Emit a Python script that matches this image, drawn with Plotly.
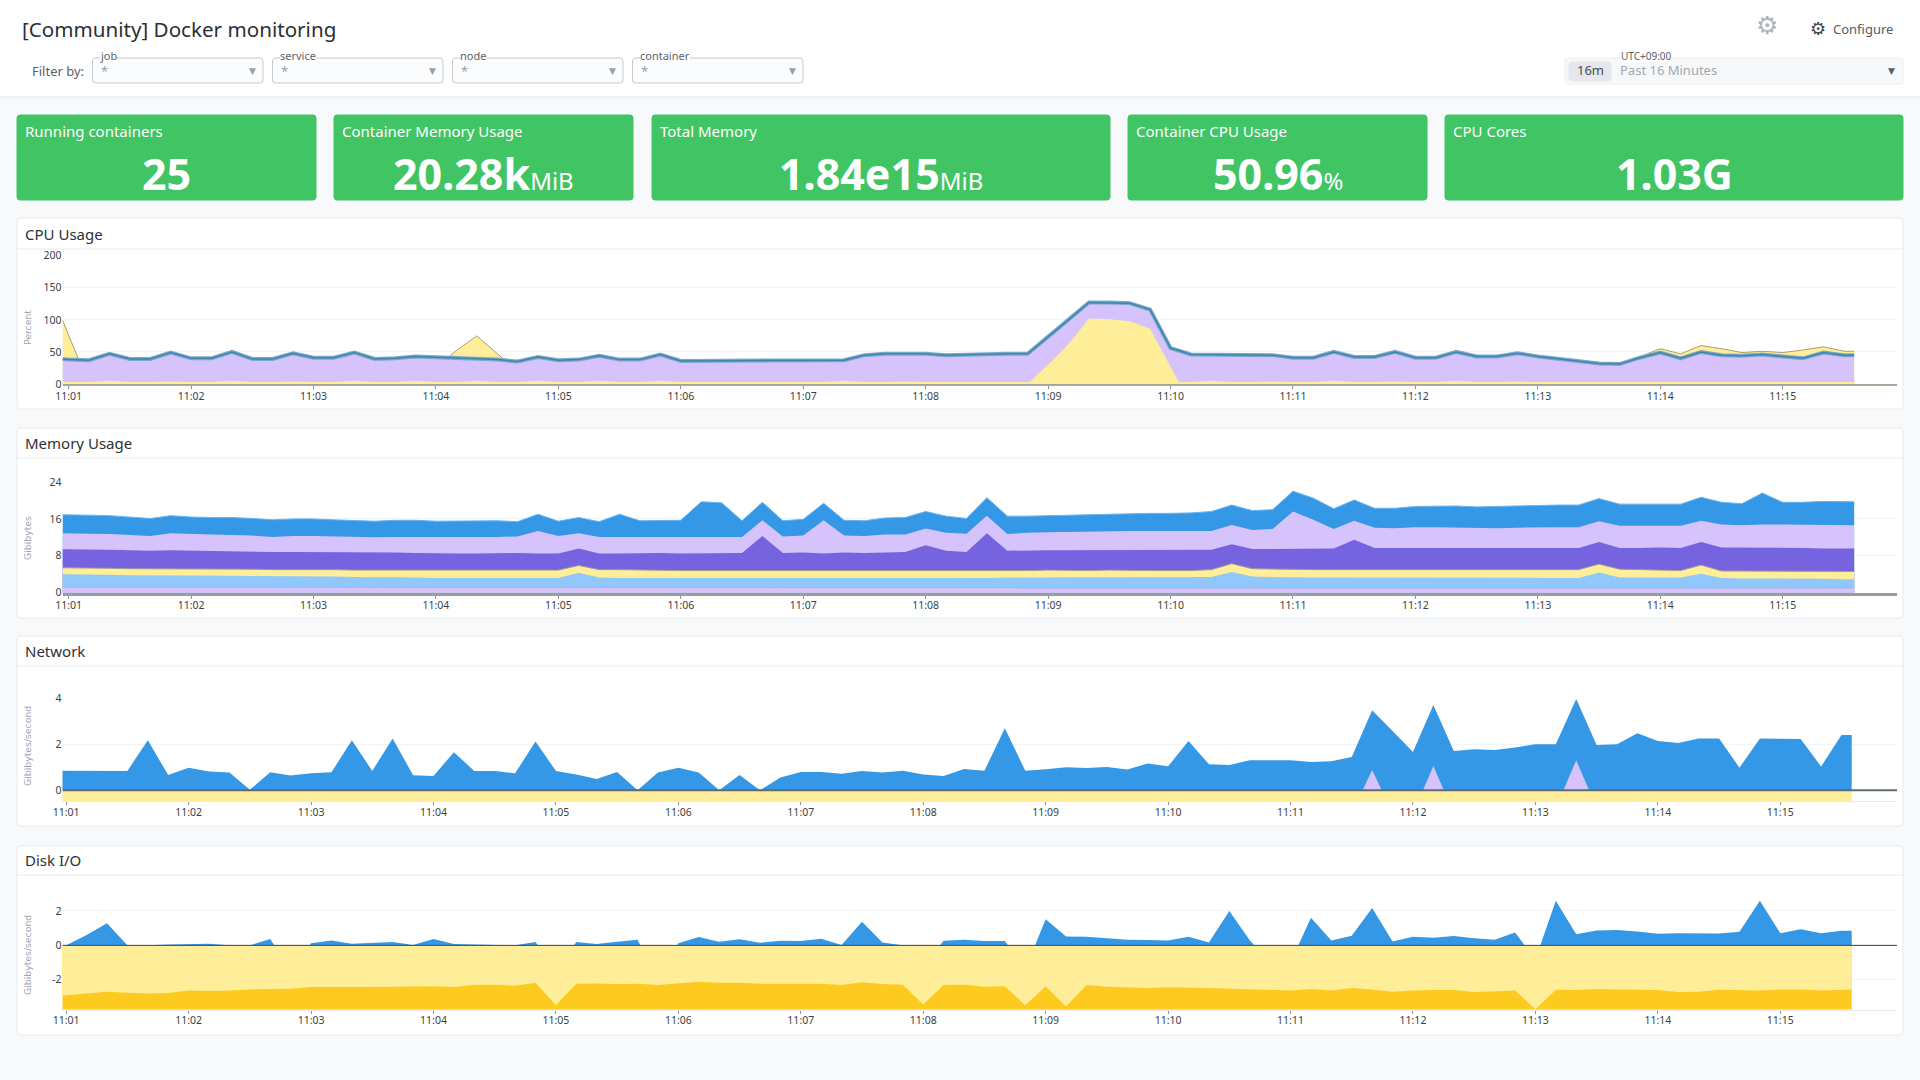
import pandas as pd
import plotly.graph_objs as go

W, H = 1920, 1080

# sample times: a first partial sample, then 10 s steps, then a last partial sample
TIMES = (["2024-01-01 11:00:57"]
         + [t.strftime("%Y-%m-%d %H:%M:%S") for t in pd.date_range("2024-01-01 11:01:00", "2024-01-01 11:15:30", freq="10s")]
         + ["2024-01-01 11:15:35"])

# CPU Usage (percent)
CPU_MAIN = [39, 38, 37, 47, 39, 39, 49,
            40, 40, 50, 39, 39, 48,
            41, 41, 49, 39, 40, 43,
            42, 40, 40, 38, 35, 42,
            37, 38, 44, 38, 38, 46,
            36, 36, 37, 37, 36, 36,
            36, 36, 37, 45, 47, 47,
            47, 45, 46, 47, 47, 47,
            73, 100, 127, 127, 126, 116,
            56, 46, 46, 46, 45, 45,
            41, 41, 50, 42, 42, 50,
            41, 41, 50, 43, 43, 48,
            43, 39, 35, 32, 31, 41,
            49, 40, 50, 45, 44, 46,
            43, 40, 49, 45, 45]
CPU_BACK = [100, 76, 0, 0, 0, 0, 0,
            0, 0, 0, 0, 0, 0,
            0, 0, 0, 0, 0, 0,
            25, 52, 75, 48, 20, 0,
            0, 0, 0, 0, 0, 0,
            0, 0, 0, 0, 0, 0,
            0, 0, 0, 0, 0, 0,
            0, 0, 0, 0, 0, 0,
            0, 0, 0, 0, 0, 0,
            0, 0, 0, 0, 0, 0,
            0, 0, 0, 0, 0, 0,
            0, 0, 0, 0, 0, 0,
            0, 0, 0, 0, 30, 43,
            55, 47, 60, 55, 49, 51,
            49, 53, 58, 51, 51]
CPU_FRONT = [0, 0, 0, 0, 0, 0, 0,
             0, 0, 0, 0, 0, 0,
             0, 0, 0, 0, 0, 0,
             0, 0, 0, 0, 0, 0,
             0, 0, 0, 0, 0, 0,
             0, 0, 0, 0, 0, 0,
             0, 0, 0, 0, 0, 0,
             0, 0, 0, 0, 0, 0,
             30, 62, 102, 101, 98, 86,
             27, -32, 0, 0, 0, 0,
             0, 0, 0, 0, 0, 0,
             0, 0, 0, 0, 0, 0,
             0, 0, 0, 0, 0, 0,
             0, 0, 0, 0, 0, 0,
             0, 0, 0, 0, 0]
CPU_SMALL = [3, 3, 3, 5, 3, 3, 4,
             3, 3, 5, 3, 3, 4,
             3, 3, 5, 3, 3, 5,
             3, 3, 5, 3, 3, 5,
             3, 3, 5, 3, 3, 5,
             3, 3, 4, 3, 3, 4,
             3, 3, 5, 3, 3, 4,
             3, 3, 4, 3, 3, 3,
             3, 3, 3, 3, 3, 3,
             3, 3, 5, 3, 3, 4,
             3, 3, 5, 3, 3, 4,
             3, 3, 5, 3, 3, 4,
             3, 3, 4, 3, 3, 3,
             3, 3, 4, 3, 3, 4,
             3, 3, 4, 3, 3]

# Memory Usage (GiB), upper edge of each band
MEM_TOP = [16.9, 16.9, 16.8, 16.7, 16.4, 16.1, 16.7,
           16.4, 16.3, 16.3, 16.1, 15.8, 16.0,
           16.0, 15.8, 15.6, 15.5, 15.7, 15.7,
           15.5, 15.5, 15.5, 15.6, 15.4, 17.0,
           15.5, 16.3, 15.4, 17.0, 15.6, 15.6,
           15.7, 19.7, 19.5, 15.6, 19.6, 15.6,
           15.9, 19.4, 15.7, 15.6, 16.2, 16.3,
           17.6, 16.6, 16.1, 20.6, 16.6, 16.6,
           16.7, 16.8, 16.9, 17.0, 17.2, 17.2,
           17.2, 17.3, 17.6, 19.0, 17.8, 18.0,
           22.0, 20.5, 18.2, 20.1, 18.3, 18.3,
           18.7, 18.8, 18.8, 18.6, 18.7, 18.8,
           19.0, 19.0, 19.0, 20.4, 19.2, 19.2,
           19.3, 19.2, 20.7, 19.6, 19.3, 21.6,
           19.6, 19.6, 19.8, 19.7, 19.7]
MEM_LAVENDER = [12.9, 12.9, 12.8, 12.7, 12.5, 12.3, 12.9,
                12.7, 12.6, 12.5, 12.4, 12.1, 12.3,
                12.3, 12.2, 12.1, 12.0, 12.1, 12.1,
                12.0, 12.0, 12.0, 12.1, 12.2, 13.4,
                12.3, 12.9, 12.1, 12.1, 12.1, 12.1,
                12.2, 12.1, 12.1, 12.1, 15.7, 12.2,
                12.4, 15.7, 12.4, 12.3, 12.6, 12.6,
                13.9, 13.0, 12.8, 16.7, 12.7, 13.0,
                13.1, 13.2, 13.3, 13.4, 13.4, 13.4,
                13.4, 13.4, 13.4, 14.7, 13.6, 13.8,
                17.6, 15.8, 13.8, 15.6, 14.1, 14.0,
                14.2, 14.2, 14.1, 14.0, 14.0, 14.1,
                14.2, 14.2, 14.2, 15.5, 14.5, 14.5,
                14.5, 14.5, 15.6, 14.8, 14.6, 14.8,
                14.8, 14.7, 14.7, 14.6, 14.6]
MEM_VIOLET = [9.4, 9.4, 9.4, 9.3, 9.2, 9.1, 9.2,
              9.1, 9.1, 9.0, 8.9, 8.8, 8.8,
              8.8, 8.8, 8.8, 8.7, 8.7, 8.6,
              8.5, 8.5, 8.5, 8.6, 8.6, 8.5,
              8.5, 9.6, 8.5, 8.5, 8.6, 8.6,
              8.5, 8.5, 8.5, 8.6, 12.3, 8.6,
              8.7, 8.5, 8.7, 8.6, 8.7, 8.8,
              10.3, 9.1, 8.8, 12.9, 9.1, 9.2,
              9.2, 9.2, 9.2, 9.2, 9.2, 9.3,
              9.3, 9.3, 9.3, 10.5, 9.5, 9.5,
              9.5, 9.5, 9.6, 11.5, 9.7, 9.7,
              9.7, 9.7, 9.6, 9.6, 9.6, 9.7,
              9.7, 9.7, 9.7, 11.0, 9.7, 9.7,
              9.8, 9.7, 11.0, 9.8, 9.8, 9.8,
              9.8, 9.7, 9.6, 9.6, 9.6]
MEM_YELLOW = [5.4, 5.4, 5.3, 5.3, 5.2, 5.2, 5.2,
              5.2, 5.1, 5.1, 5.1, 5.0, 5.0,
              5.1, 5.0, 4.9, 4.9, 4.9, 4.8,
              4.8, 4.8, 4.8, 4.8, 4.8, 4.8,
              4.9, 5.9, 5.0, 5.0, 4.9, 4.9,
              4.8, 4.8, 4.8, 4.7, 4.7, 4.8,
              4.8, 4.7, 4.8, 4.8, 4.7, 4.7,
              4.8, 4.8, 4.8, 4.8, 4.8, 4.8,
              4.9, 4.8, 4.8, 4.9, 4.8, 4.8,
              4.8, 4.8, 5.0, 6.3, 5.2, 5.1,
              5.0, 5.0, 5.0, 5.0, 5.0, 5.0,
              5.0, 5.0, 4.9, 4.9, 4.9, 4.9,
              5.0, 5.0, 5.0, 6.2, 5.1, 5.0,
              4.9, 4.8, 6.0, 4.7, 4.7, 4.7,
              4.7, 4.7, 4.6, 4.6, 4.6]
MEM_SKY = [4.0, 4.0, 3.9, 3.9, 3.8, 3.8, 3.7,
           3.7, 3.7, 3.7, 3.6, 3.6, 3.6,
           3.5, 3.5, 3.4, 3.4, 3.3, 3.3,
           3.2, 3.2, 3.2, 3.2, 3.2, 3.2,
           3.2, 4.3, 3.3, 3.2, 3.2, 3.2,
           3.2, 3.2, 3.1, 3.2, 3.2, 3.2,
           3.2, 3.1, 3.2, 3.2, 3.1, 3.1,
           3.1, 3.2, 3.2, 3.2, 3.3, 3.3,
           3.3, 3.3, 3.3, 3.3, 3.3, 3.3,
           3.3, 3.3, 3.4, 4.5, 3.5, 3.4,
           3.3, 3.3, 3.3, 3.3, 3.3, 3.3,
           3.3, 3.3, 3.2, 3.2, 3.2, 3.2,
           3.2, 3.2, 3.2, 4.4, 3.3, 3.3,
           3.3, 3.3, 4.1, 3.2, 3.1, 3.1,
           3.0, 3.0, 3.0, 2.9, 2.9]
MEM_BASE = [1.2, 1.2, 1.2, 1.2, 1.2, 1.2, 1.2,
            1.2, 1.2, 1.2, 1.2, 1.2, 1.1,
            1.1, 1.1, 1.1, 1.1, 1.1, 1.1,
            1.1, 1.1, 1.1, 1.1, 1.1, 1.1,
            1.1, 1.2, 1.1, 1.1, 1.1, 1.1,
            1.1, 1.1, 1.1, 1.1, 1.1, 1.1,
            1.1, 1.1, 1.1, 1.1, 1.1, 1.1,
            1.1, 1.1, 1.1, 1.1, 1.1, 1.0,
            1.0, 1.0, 1.0, 1.0, 1.0, 1.0,
            1.0, 1.0, 1.0, 1.1, 1.0, 1.0,
            1.0, 1.0, 1.0, 1.0, 1.0, 1.0,
            1.0, 1.0, 1.0, 1.0, 1.0, 1.0,
            1.0, 1.0, 1.0, 1.1, 1.0, 1.0,
            1.0, 1.0, 1.1, 1.0, 1.0, 1.0,
            1.0, 1.0, 1.0, 1.0, 1.0]

# Network (GiB/s)
NET_RX = [0.85, 0.85, 0.85, 0.85, 0.84, 2.17, 0.66,
          0.98, 0.81, 0.77, 0.02, 0.78, 0.64,
          0.74, 0.78, 2.17, 0.84, 2.25, 0.65,
          0.62, 1.65, 0.84, 0.84, 0.74, 2.11,
          0.84, 0.69, 0.49, 0.79, 0.0, 0.77,
          0.98, 0.77, 0.0, 0.66, 0.0, 0.55,
          0.79, 0.79, 0.72, 0.84, 0.77, 0.85,
          0.69, 0.62, 0.92, 0.85, 2.69, 0.85,
          0.91, 1.0, 0.97, 1.01, 0.9, 1.16,
          1.04, 2.14, 1.13, 1.1, 1.3, 1.31,
          1.3, 1.23, 1.26, 1.44, 3.47, 2.57,
          1.66, 3.7, 1.7, 1.78, 1.75, 1.86,
          2.0, 2.0, 3.96, 1.96, 2.0, 2.47,
          2.14, 2.05, 2.25, 2.24, 0.98, 2.25,
          2.22, 2.22, 1.03, 2.4, 2.4]
NET_SPIKE = [0, 0, 0, 0, 0, 0, 0,
             0, 0, 0, 0, 0, 0,
             0, 0, 0, 0, 0, 0,
             0, 0, 0, 0, 0, 0,
             0, 0, 0, 0, 0, 0,
             0, 0, 0, 0, 0, 0,
             0, 0, 0, 0, 0, 0,
             0, 0, 0, 0, 0, 0,
             0, 0, 0, 0, 0, 0,
             0, 0, 0, 0, 0, 0,
             0, 0, 0, -1.0, 0.88, -1.0,
             -1.0, 1.05, -1.0, 0, 0, 0,
             0, -0.76, 1.3, -0.76, 0, 0,
             0, 0, 0, 0, 0, 0,
             0, 0, 0, 0, 0]
NET_TX = [-0.47, -0.47, -0.47, -0.47, -0.47, -0.47, -0.47,
          -0.47, -0.47, -0.47, -0.47, -0.47, -0.47,
          -0.47, -0.47, -0.47, -0.47, -0.47, -0.47,
          -0.47, -0.47, -0.47, -0.47, -0.47, -0.47,
          -0.47, -0.47, -0.47, -0.47, -0.47, -0.47,
          -0.47, -0.47, -0.47, -0.47, -0.47, -0.47,
          -0.47, -0.47, -0.47, -0.47, -0.47, -0.47,
          -0.47, -0.47, -0.47, -0.47, -0.47, -0.47,
          -0.47, -0.47, -0.47, -0.47, -0.47, -0.47,
          -0.47, -0.47, -0.47, -0.47, -0.47, -0.47,
          -0.47, -0.47, -0.47, -0.47, -0.47, -0.47,
          -0.47, -0.47, -0.47, -0.47, -0.47, -0.47,
          -0.47, -0.47, -0.47, -0.47, -0.47, -0.47,
          -0.47, -0.47, -0.47, -0.47, -0.47, -0.47,
          -0.47, -0.47, -0.47, -0.47, -0.47]

# Disk I/O (GiB/s); the dips below zero sit behind the yellow areas
DISK_READ = [0, 0, 0.6, 1.29, 0, 0, 0.05,
             0.08, 0.1, 0, 0, 0.37, -1.5,
             0.12, 0.29, 0.1, 0.15, 0.19, 0.02,
             0.37, 0.08, 0.04, 0, 0, 0.19,
             -1.4, 0.19, 0.08, 0.21, 0.33, -2.0,
             0.12, 0.48, 0.21, 0.35, 0.15, 0.27,
             0.25, 0.38, 0.02, 1.37, 0.17, 0,
             -1.2, 0.27, 0.33, 0.25, 0.25, -1.4,
             1.52, 0.52, 0.5, 0.42, 0.33, 0.31,
             0.29, 0.5, 0.17, 2.0, 0.3, -1.0,
             -1.0, 1.6, 0.29, 0.56, 2.17, 0.23,
             0.5, 0.44, 0.54, 0.42, 0.33, 0.75,
             -0.82, 2.6, 0.64, 0.87, 0.9, 0.8,
             0.67, 0.71, 0.71, 0.69, 0.79, 2.6,
             0.71, 0.94, 0.71, 0.85, 0.85]
DISK_WRITE = [-2.9, -2.9, -2.8, -2.69, -2.75, -2.8, -2.77,
              -2.62, -2.65, -2.63, -2.56, -2.54, -2.52,
              -2.42, -2.42, -2.46, -2.42, -2.4, -2.38,
              -2.38, -2.42, -2.31, -2.29, -2.35, -2.17,
              -3.48, -2.23, -2.21, -2.25, -2.23, -2.31,
              -2.23, -2.12, -2.17, -2.17, -2.23, -2.25,
              -2.23, -2.23, -2.31, -2.15, -2.25, -2.29,
              -3.44, -2.31, -2.29, -2.4, -2.37, -3.48,
              -2.38, -3.56, -2.31, -2.4, -2.44, -2.48,
              -2.44, -2.44, -2.48, -2.52, -2.54, -2.6,
              -2.62, -2.54, -2.63, -2.48, -2.56, -2.69,
              -2.62, -2.6, -2.6, -2.71, -2.67, -2.62,
              -3.71, -2.58, -2.6, -2.54, -2.56, -2.6,
              -2.6, -2.71, -2.69, -2.58, -2.62, -2.62,
              -2.56, -2.56, -2.62, -2.56, -2.56]
DISK_TOTAL = [-3.74, -3.74, -3.74, -3.74, -3.74, -3.74, -3.74,
              -3.74, -3.74, -3.74, -3.74, -3.74, -3.74,
              -3.74, -3.74, -3.74, -3.74, -3.74, -3.74,
              -3.74, -3.74, -3.74, -3.74, -3.74, -3.74,
              -3.74, -3.74, -3.74, -3.74, -3.74, -3.74,
              -3.74, -3.74, -3.74, -3.74, -3.74, -3.74,
              -3.74, -3.74, -3.74, -3.74, -3.74, -3.74,
              -3.74, -3.74, -3.74, -3.74, -3.74, -3.74,
              -3.74, -3.74, -3.74, -3.74, -3.74, -3.74,
              -3.74, -3.74, -3.74, -3.74, -3.74, -3.74,
              -3.74, -3.74, -3.74, -3.74, -3.74, -3.74,
              -3.74, -3.74, -3.74, -3.74, -3.74, -3.74,
              -3.74, -3.74, -3.74, -3.74, -3.74, -3.74,
              -3.74, -3.74, -3.74, -3.74, -3.74, -3.74,
              -3.74, -3.74, -3.74, -3.74, -3.74]

FILTERS = ["job", "service", "node", "container"]
TILE_TITLES = ["Running containers", "Container Memory Usage", "Total Memory", "Container CPU Usage", "CPU Cores"]
TILE_VALUES = ["25", "20.28k", "1.84e15", "50.96", "1.03G"]
TILE_UNITS = ["", "MiB", "MiB", "%", ""]

YELLOW = "#feee9a"
LAVENDER = "#d6c3fb"
BLUE = "#3498e6"
GOLD = "#fdcb20"
FONT = "Noto Sans"


def px(x):
    return x / W


def py(y):
    return 1 - y / H


def rrect(x0, y0, x1, y1, r, fill, line=None):
    a, b, c, d = px(x0), px(x1), py(y0), py(y1)
    rx, ry = r / W, r / H
    path = (f"M{a + rx},{c} L{b - rx},{c} Q{b},{c} {b},{c - ry} L{b},{d + ry} Q{b},{d} {b - rx},{d} "
            f"L{a + rx},{d} Q{a},{d} {a},{d + ry} L{a},{c - ry} Q{a},{c} {a + rx},{c} Z")
    return dict(type="path", path=path, xref="paper", yref="paper", fillcolor=fill, layer="below",
                line=dict(color=line or fill, width=1))


def hline(x0, x1, y, color):
    return dict(type="line", xref="paper", yref="paper", x0=px(x0), x1=px(x1), y0=py(y), y1=py(y),
                layer="below", line=dict(color=color, width=1))


def note(x, y, text, size=13, color="#333", anchor="left", family=FONT, **kw):
    return dict(x=px(x), y=py(y), xref="paper", yref="paper", text=text, showarrow=False,
                xanchor=anchor, yanchor="middle", font=dict(size=size, color=color, family=family),
                borderpad=0, borderwidth=0, **kw)


shapes = []
notes = []

# header
shapes.append(dict(type="rect", xref="paper", yref="paper", x0=0, x1=1, y0=py(97), y1=1, layer="below",
                   fillcolor="#ffffff", line=dict(width=0)))
shapes.append(hline(0, W, 97, "#e3e5e9"))
notes.append(note(22, 29, "[Community] Docker monitoring", size=20.6, color="#2b2f36"))
notes.append(note(32, 71, "Filter by:", size=13, color="#5c6168"))

filter_x = [92.5, 272.5, 452.5, 632.5]
for name, x in zip(FILTERS, filter_x):
    shapes.append(rrect(x, 58, x + 170.5, 83, 3, "#fbfcfd", "#c5c9d0"))
    notes.append(note(x + 7, 55.5, name, size=11, color="#5c6168", bgcolor="#ffffff"))
    notes.append(note(x + 8, 71, "*", size=13, color="#9aa0a8"))
    notes.append(note(x + 159.5, 71, "▼", size=9, color="#9aa0a8", anchor="center", family="DejaVu Sans"))

shapes.append(rrect(1565, 58, 1903, 84, 3, "#f7f8fa", "#eceef1"))
shapes.append(rrect(1569, 62, 1611, 81, 3, "#e4e7ec"))
notes.append(note(1590, 70.5, "16m", size=13, color="#4a4f57", anchor="center"))
notes.append(note(1620, 70.5, "Past 16 Minutes", size=13, color="#a3a8af"))
notes.append(note(1621, 55.5, "UTC+09:00", size=10, color="#5c6168", bgcolor="#ffffff"))
notes.append(note(1891, 71, "▼", size=9, color="#5c6168", anchor="center", family="DejaVu Sans"))
notes.append(note(1767, 26, "⚙", size=25, color="#aeb2b8", anchor="center", family="DejaVu Sans"))
notes.append(note(1818, 28.5, "⚙", size=18, color="#3f444b", anchor="center", family="DejaVu Sans"))
notes.append(note(1833, 29, "Configure", size=13, color="#555a61"))

# value tiles
tile_x = [(17, 316), (334, 633), (652, 1110), (1128, 1427), (1445, 1903)]
for (x0, x1), title, value, unit in zip(tile_x, TILE_TITLES, TILE_VALUES, TILE_UNITS):
    shapes.append(rrect(x0, 115, x1, 200, 3, "#41c464"))
    notes.append(note(x0 + 8, 131, title, size=15, color="#ffffff"))
    label = f"<b>{value}</b>"
    if unit:
        label += f'<span style="font-size:24px">{unit}</span>'
    notes.append(note((x0 + x1) / 2, 173, label, size=43, color="#ffffff", anchor="center"))

# time series panels: name, panel top/bottom, title line, title y, plot top/bottom, y range, ticks, unit
PANELS = [
    dict(title="CPU Usage", top=218, bottom=409, line=249, title_y=234, plot=(255.7, 384), yrange=[0, 200],
         ticks=[0, 50, 100, 150, 200], unit="Percent", xrange=["2024-01-01 11:00:57", "2024-01-01 11:15:56"]),
    dict(title="Memory Usage", top=428, bottom=618, line=458, title_y=443, plot=(482, 592.7), yrange=[0, 24],
         ticks=[0, 8, 16, 24], unit="Gibibytes", xrange=["2024-01-01 11:00:57", "2024-01-01 11:15:56"]),
    dict(title="Network", top=636, bottom=826, line=666, title_y=651, plot=(698, 801), yrange=[-0.463, 4],
         ticks=[0, 2, 4], unit="Gibibytes/second", xrange=["2024-01-01 11:00:58.2", "2024-01-01 11:15:57.2"]),
    dict(title="Disk I/O", top=846, bottom=1035, line=875, title_y=860, plot=(880, 1009.7), yrange=[-3.74, 3.8],
         ticks=[-2, 0, 2], unit="Gibibytes/second", xrange=["2024-01-01 11:00:58.2", "2024-01-01 11:15:57.2"]),
]
UNIT_Y = [328, 538, 746, 955]

layout_axes = {}
for i, p in enumerate(PANELS, start=1):
    shapes.append(rrect(17, p["top"], 1903, p["bottom"], 4, "#ffffff", "#e8eaed"))
    shapes.append(hline(17, 1903, p["line"], "#e8eaee"))
    notes.append(note(25, p["title_y"], p["title"], size=15, color="#2d3138"))
    top, bottom = p["plot"]
    notes.append(note(27, UNIT_Y[i - 1], p["unit"], size=9.3, color="#a0a6ae", anchor="center",
                      family="DejaVu Sans", textangle=-90))
    suffix = "" if i == 1 else str(i)
    base_color = {1: "#aaa89a", 2: "#9c9c9c"}.get(i, "#e8eaee")
    base_width = {1: 2, 2: 3}.get(i, 1)
    layout_axes["xaxis" + suffix] = dict(
        domain=[px(62.5), px(1897)], range=p["xrange"], type="date", anchor="y" + suffix, automargin=False,
        dtick=60000, tickformat="%H:%M", ticks="outside", ticklen=3, tickwidth=1, tickcolor="#8a8f96",
        ticklabelstandoff=-2, tickfont=dict(size=10.5, color="#3a3f45", family=FONT), showgrid=False,
        zeroline=False, showline=True, linecolor=base_color, linewidth=base_width)
    layout_axes["yaxis" + suffix] = dict(
        domain=[py(bottom), py(top)], range=p["yrange"], anchor="x" + suffix, tickmode="array", automargin=False,
        tickvals=p["ticks"], ticktext=[str(t) for t in p["ticks"]],
        tickfont=dict(size=10.5, color="#3a3f45", family=FONT), ticks="",
        showgrid=True, gridcolor="#f1f3f5", gridwidth=1, zeroline=False, showline=False)


def area(values, panel, color, line_color=None, line_width=0):
    suffix = "" if panel == 1 else str(panel)
    return go.Scatter(x=TIMES, y=values, mode="lines", fill="tozeroy", fillcolor=color,
                      line=dict(color=line_color or color, width=line_width), xaxis="x" + suffix,
                      yaxis="y" + suffix, hoverinfo="skip")


def trend(values, panel, color, width):
    suffix = "" if panel == 1 else str(panel)
    return go.Scatter(x=TIMES, y=values, mode="lines", line=dict(color=color, width=width),
                      xaxis="x" + suffix, yaxis="y" + suffix, hoverinfo="skip")


traces = [
    area(CPU_BACK, 1, YELLOW, "#a89f70", 1),
    area(CPU_MAIN, 1, LAVENDER),
    trend(CPU_MAIN, 1, "#7fa6cc", 4),
    trend(CPU_MAIN, 1, "#3a87ab", 1.5),
    area(CPU_FRONT, 1, YELLOW),
    area(CPU_SMALL, 1, YELLOW),

    area(MEM_TOP, 2, BLUE, "#66b4f2", 1),
    area(MEM_LAVENDER, 2, LAVENDER),
    area(MEM_VIOLET, 2, "#7563e0"),
    area(MEM_YELLOW, 2, YELLOW, "#9b9f8c", 1),
    area(MEM_SKY, 2, "#90c8fb"),
    area(MEM_BASE, 2, LAVENDER, "#8faaf0", 0.6),

    area(NET_RX, 3, BLUE),
    area(NET_SPIKE, 3, LAVENDER),
    area(NET_TX, 3, YELLOW),

    area(DISK_READ, 4, BLUE),
    area(DISK_TOTAL, 4, GOLD),
    area(DISK_WRITE, 4, YELLOW),
]

# zero lines sit on top of the areas
for i, color, width in [(3, "#5d6b73", 2), (4, "#3a3f45", 1)]:
    shapes.append(dict(type="line", xref=f"x{i}", yref=f"y{i}", x0=PANELS[i - 1]["xrange"][0],
                       x1=PANELS[i - 1]["xrange"][1], y0=0, y1=0, layer="above",
                       line=dict(color=color, width=width)))

fig = go.Figure(data=traces)
fig.update_layout(width=W, height=H, margin=dict(l=0, r=0, t=0, b=0), showlegend=False,
                  paper_bgcolor="#f8f9fb", plot_bgcolor="rgba(0,0,0,0)",
                  font=dict(family=FONT), shapes=shapes, annotations=notes, **layout_axes)

for arr in [CPU_MAIN, CPU_BACK, CPU_FRONT, CPU_SMALL, MEM_TOP, MEM_LAVENDER, MEM_VIOLET, MEM_YELLOW, MEM_SKY,
            MEM_BASE, NET_RX, NET_SPIKE, NET_TX, DISK_READ, DISK_WRITE, DISK_TOTAL]:
    assert len(arr) == len(TIMES), len(arr)

fig.write_html("out.html", config=dict(displayModeBar=False),
               post_script="document.body.style.margin='0';")
